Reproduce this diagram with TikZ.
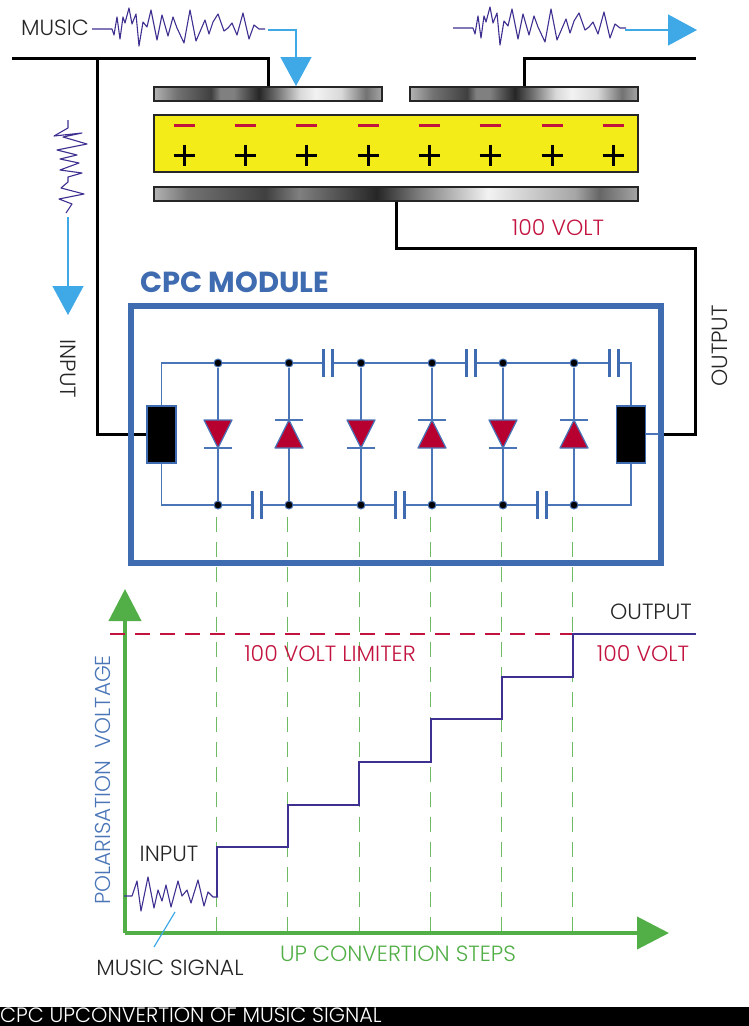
\documentclass[tikz,border=0pt]{standalone}
\usepackage{fontspec}
\setmainfont{Poppins}[UprightFont=* Light,BoldFont=* Bold]
\usetikzlibrary{arrows.meta}

\definecolor{wirecol}{HTML}{4A76B8}
\definecolor{modcol}{HTML}{3F6CB0}
\definecolor{arrowcol}{HTML}{3FA9E8}
\definecolor{wavecol}{HTML}{3D3090}
\definecolor{axiscol}{HTML}{52AE47}
\definecolor{stepcol}{HTML}{6DBB62}
\definecolor{redcol}{HTML}{C2133F}
\definecolor{diodecol}{HTML}{B70030}
\definecolor{yellowcol}{HTML}{F3EC19}

\pgfdeclarehorizontalshading{plateshort}{100bp}{
  color(0bp)=(black!30); color(25bp)=(black!30);
  color(30bp)=(black!55); color(37.5bp)=(black!75); color(39.5bp)=(black!50);
  color(42.5bp)=(black!50); color(48bp)=(black!85); color(52bp)=(black!55);
  color(57bp)=(black!15); color(60.5bp)=(black!5); color(66bp)=(black!15);
  color(71.5bp)=(black!55); color(75bp)=(black!35); color(100bp)=(black!35)}
\pgfdeclarehorizontalshading{platelong}{100bp}{
  color(0bp)=(black!30); color(25bp)=(black!30);
  color(28.5bp)=(black!55); color(36.5bp)=(black!75); color(40bp)=(black!50);
  color(48bp)=(black!85); color(52.5bp)=(black!50);
  color(59.5bp)=(black!5); color(68.5bp)=(black!35); color(71bp)=(black!60);
  color(75bp)=(black!35); color(100bp)=(black!35)}

\tikzset{
  musicwave/.pic={
    \draw[wavecol, line width=1.1pt, line join=round]
      (0,0) -- (20,0) -- (22,6) -- (25,-12) -- (28,10) -- (31,-12) -- (33,-6) -- (37,-21)
      -- (40,-5) -- (44,-15) -- (47,17) -- (51,-7) -- (55,-2) -- (59,-19) -- (65,11)
      -- (70,-14) -- (76,7) -- (81,-12) -- (85,-1) -- (92,14) -- (98,-19) -- (104,12)
      -- (113,-9) -- (117,5) -- (121,-7) -- (126,-15) -- (132,2) -- (136,-1) -- (140,-6)
      -- (145,6) -- (151,-16) -- (157,10) -- (162,-4) -- (167,0) -- (173,0);
  },
  inputwave/.pic={
    \draw[wavecol, line width=1.1pt, line join=round]
      (0,0) -- (8,0) -- (13,-15) -- (17,15) -- (24,-19) -- (30,12) -- (34,-6) -- (38,5)
      -- (42,-11) -- (47,11) -- (54,-15) -- (58,0) -- (63,-6) -- (67,7) -- (74,-16)
      -- (80,10) -- (84,-4) -- (89,1) -- (94,1);
  },
  downwave/.pic={
    \draw[wavecol, line width=1.1pt, line join=round]
      (0,0) -- (0,8) -- (-14,16) -- (14,13) -- (-5,17) -- (19,24) -- (-11,30) -- (9,35)
      -- (-8,39) -- (11,43) -- (-8,50) -- (14,53) -- (0,57) -- (0,62) -- (-7,68)
      -- (16,74) -- (-9,79) -- (4,84) -- (-2,93);
  },
  capacitor/.pic={
    \fill[white] (-4.5,-3) rectangle (4.5,3);
    \draw[modcol, line width=2.6pt] (-4.5,-14) -- (-4.5,14) (4.5,-14) -- (4.5,14);
  },
  diodedown/.pic={
    \draw[wirecol, line width=1.2pt, fill=diodecol, line join=round] (-14,-14) -- (14,-14) -- (0,14) -- cycle;
    \draw[wirecol, line width=1.2pt] (-14,14) -- (14,14);
  },
  diodeup/.pic={
    \draw[wirecol, line width=1.2pt, fill=diodecol, line join=round] (-14,14) -- (14,14) -- (0,-14) -- cycle;
    \draw[wirecol, line width=1.2pt] (-14,-14) -- (14,-14);
  }
}

\begin{document}
\begin{tikzpicture}[
    x=1pt, y=-1pt,
    wire/.style={wirecol, line width=1.5pt},
    blackwire/.style={black, line width=3pt, line join=miter},
    junction/.style={circle, draw=wirecol, fill=black, line width=1pt, inner sep=0pt, minimum size=8pt},
    block/.style={rectangle, draw=modcol, fill=black, line width=1.5pt, inner sep=0pt, minimum width=29pt, minimum height=57pt},
    plate/.style={rectangle, draw=black!85, line width=1.5pt, inner sep=0pt, minimum height=14pt},
    bluearrow/.style={arrowcol, line width=1.5pt, -{Triangle[length=29pt, width=31pt]}},
    axisarrow/.style={axiscol, line width=4pt, -{Triangle[length=32pt, width=32pt]}},
    lbl/.style={inner sep=0pt, font=\fontsize{22}{26}\selectfont, text=black!85},
    redlbl/.style={lbl, text=redcol},
    steps/.style={stepcol, line width=1.2pt, dash pattern=on 15pt off 10pt},
  ]
  \useasboundingbox (0,0) rectangle (749,1026);

  % bottom caption
  \node (bar) [rectangle, fill=black, minimum width=749pt, minimum height=19pt, inner sep=0pt, anchor=north west] at (0,1007) {};
  \node (caption) [lbl, text=white, anchor=west, font=\fontsize{20.8}{24}\selectfont] at (0,1015.5) {CPC UPCONVERTION OF MUSIC SIGNAL};

  % electrodes and membrane
  \node (plate_left) [plate, shading=plateshort, minimum width=228pt] at (268,94) {};
  \node (plate_right) [plate, shading=plateshort, minimum width=228pt] at (524,94) {};
  \node (plate_bottom) [plate, shading=platelong, minimum width=484pt] at (396,194) {};
  \node (membrane) [rectangle, draw=black!85, fill=yellowcol, line width=1.5pt, inner sep=0pt, minimum width=484pt, minimum height=57pt] at (396,143.5) {};
  \foreach \x in {184,245,306,368,429,490,552,613} {
    \draw[redcol, line width=3pt] (\x-10.5,125) -- (\x+10.5,125);
    \draw[black, line width=3pt] (\x-10.5,155) -- (\x+10.5,155) (\x,144.5) -- (\x,165.5);
  }

  % black wiring
  \coordinate (in_end) at (12,58);
  \coordinate (in_top) at (268,58);
  \coordinate (in_tee) at (97,58);
  \coordinate (in_corner) at (97,434);
  \coordinate (out_end) at (696,58);
  \coordinate (out_top) at (524,58);
  \coordinate (hv_a) at (396,248);
  \coordinate (hv_b) at (695,248);
  \coordinate (hv_c) at (695,434);
  \node (block_in) [block] at (161.5,434.5) {};
  \node (block_out) [block] at (631,434.5) {};
  \coordinate (hv_d) at (662,434);
  \draw[blackwire] (in_end) -- (in_top) -- (plate_left.north);
  \draw[blackwire] (in_tee) -- (in_corner) -- (block_in.west |- in_corner);
  \draw[blackwire] (out_end) -- (out_top) -- (plate_right.north);
  \draw[blackwire] (plate_bottom.south -| hv_a) -- (hv_a) -- (hv_b) -- (hv_c) -- (hv_d);

  % module
  \node (module) [rectangle, draw=modcol, line width=6pt, inner sep=0pt, minimum width=530pt, minimum height=257pt] at (396,434.5) {};
  \node (module_title) [inner sep=0pt, anchor=west, text=modcol, font=\fontsize{29}{32}\selectfont\bfseries] at (140,282) {CPC MODULE};

  % rails
  \coordinate (rail_tl) at (161.5,363);
  \coordinate (rail_bl) at (161.5,505);
  \coordinate (rail_tr) at (631,363);
  \coordinate (rail_br) at (631,505);
  \coordinate (tap_out) at (659,434);
  \draw[wire] (block_in.north) -- (rail_tl) -- (rail_tr) -- (block_out.north);
  \draw[wire] (block_in.south) -- (rail_bl) -- (rail_br) -- (block_out.south);
  \draw[wire] (block_out.east |- tap_out) -- (tap_out);

  \foreach \n/\x/\kind in {1/218/diodedown,2/289/diodeup,3/361/diodedown,4/432/diodeup,5/503/diodedown,6/574/diodeup} {
    \node (jt\n) [junction] at (\x,363) {};
    \node (jb\n) [junction] at (\x,505) {};
    \draw[wire] (jt\n) -- (jb\n);
    \pic at (\x,434) {\kind};
    \coordinate (st\n) at (\x-1.5,517);
    \coordinate (sb\n) at (\x-1.5,940);
    \draw[steps] (st\n) -- (sb\n);
  }
  \foreach \x in {328,471,614} \pic at (\x,363) {capacitor};
  \foreach \x in {257,400,542} \pic at (\x,505) {capacitor};

  % signals at the top
  \pic at (92,29) {musicwave};
  \pic at (453,28) {musicwave};
  \pic at (68,120) {downwave};
  \coordinate (a1_a) at (268,30);
  \coordinate (a1_b) at (296,30);
  \coordinate (a1_c) at (296,86);
  \draw[bluearrow] (a1_a) -- (a1_b) -- (a1_c);
  \coordinate (a2_a) at (625,30);
  \coordinate (a2_b) at (697,30);
  \draw[bluearrow] (a2_a) -- (a2_b);
  \coordinate (a3_a) at (68,217);
  \coordinate (a3_b) at (68,315);
  \draw[bluearrow] (a3_a) -- (a3_b);

  % graph
  \coordinate (origin) at (125,933);
  \coordinate (y_end) at (125,589);
  \coordinate (x_end) at (669,933);
  \draw[axisarrow] (origin) -- (y_end);
  \draw[axisarrow] (origin) -- (x_end);
  \coordinate (lim_a) at (110,634);
  \coordinate (lim_b) at (573,634);
  \draw[redcol, line width=1.5pt, dash pattern=on 15pt off 10pt] (lim_a) -- (lim_b);
  \coordinate (s0) at (217,897);
  \coordinate (s1) at (217,847);
  \coordinate (s2) at (288,847);
  \coordinate (s3) at (288,805);
  \coordinate (s4) at (359,805);
  \coordinate (s5) at (359,762);
  \coordinate (s6) at (431,762);
  \coordinate (s7) at (431,719);
  \coordinate (s8) at (502,719);
  \coordinate (s9) at (502,677);
  \coordinate (s10) at (573,677);
  \coordinate (s11) at (573,634);
  \coordinate (s12) at (696,634);
  \draw[wavecol, line width=1.4pt] (s0) -- (s1) -- (s2) -- (s3) -- (s4) -- (s5) -- (s6) -- (s7) -- (s8) -- (s9) -- (s10) -- (s11) -- (s12);
  \pic at (124,896) {inputwave};
  \coordinate (sig_a) at (175,912);
  \coordinate (sig_b) at (154,947);
  \draw[arrowcol, line width=1.2pt] (sig_a) -- (sig_b);

  % labels
  \node (music) [lbl] at (55,28) {MUSIC};
  \node (volt_top) [redlbl] at (558,228) {100 VOLT};
  \node (input_side) [lbl, rotate=-90] at (68,369) {INPUT};
  \node (output_side) [lbl, rotate=90] at (720,346) {OUTPUT};
  \node (limiter) [redlbl] at (330,654) {100 VOLT LIMITER};
  \node (output_graph) [lbl] at (651,612) {OUTPUT};
  \node (volt_graph) [redlbl] at (643,654) {100 VOLT};
  \node (polar) [lbl, text=wirecol, rotate=90, font=\fontsize{21.6}{26}\selectfont] at (103,780) {POLARISATION\ \ VOLTAGE};
  \node (input_graph) [lbl] at (169,854) {INPUT};
  \node (steps_lbl) [lbl, text=axiscol] at (398,954) {UP CONVERTION STEPS};
  \node (music_signal) [lbl] at (170,968) {MUSIC SIGNAL};
\end{tikzpicture}
\end{document}
